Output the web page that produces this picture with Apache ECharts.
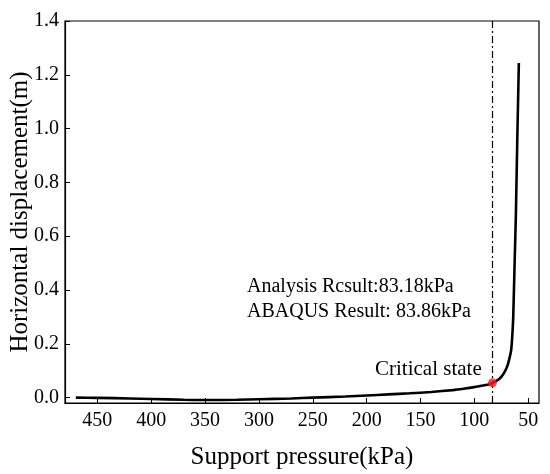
<!DOCTYPE html>
<html>
<head>
<meta charset="utf-8">
<script src="https://cdn.jsdelivr.net/npm/echarts@6/dist/echarts.min.js"></script>
<style>
  html, body { margin: 0; padding: 0; background: #fff; }
  #chart { width: 550px; height: 474px; }
</style>
</head>
<body>
<div id="chart"></div>
<script>
// support pressure (kPa) and horizontal displacement (m)
var pressure = [470, 450, 420, 400, 370, 350, 320, 300, 270, 250, 220, 200, 180, 160, 140,
  120, 110, 100, 92, 86, 83.18, 80.5, 77.3, 74.5, 72, 69.5, 67.5, 65.8, 64.8, 63.9, 62.7,
  61.5, 60.2, 58.7];
var displacement = [0.000, -0.001, -0.003, -0.005, -0.008, -0.009, -0.008, -0.006, -0.003, 0.000,
  0.004, 0.008, 0.012, 0.016, 0.021, 0.028, 0.033, 0.039, 0.045, 0.050, 0.055, 0.060, 0.068,
  0.080, 0.095, 0.116, 0.145, 0.178, 0.230, 0.302, 0.490, 0.673, 0.950, 1.244];

var criticalPoint = [83.18, 0.055];
var xTicks = [50, 100, 150, 200, 250, 300, 350, 400, 450];
var yTicks = [0, 0.2, 0.4, 0.6, 0.8, 1.0, 1.2, 1.4];
var notes = ['Analysis Rcsult:83.18kPa', 'ABAQUS Result: 83.86kPa'];

var font = '"Liberation Serif", "Times New Roman", serif';

var curve = [];
for (var i = 0; i < pressure.length; i++) {
  curve.push([pressure[i], displacement[i]]);
}

var chart = echarts.init(document.getElementById('chart'));

var option = {
  animation: false,
  grid: {
    left: 65, right: 11, top: 21, bottom: 71,
    outerBoundsMode: 'none',
    containLabel: false,
    show: true, borderColor: '#000', borderWidth: 1.2
  },
  xAxis: {
    type: 'value',
    inverse: true,
    min: 40, max: 480,
    name: 'Support pressure(kPa)',
    nameLocation: 'middle',
    nameGap: 42,
    nameTextStyle: { fontFamily: font, fontSize: 25, color: '#000' },
    axisLine: { show: true, onZero: false, lineStyle: { color: '#000', width: 1.2 } },
    axisTick: { show: true, inside: true, length: 5, customValues: xTicks, lineStyle: { color: '#000' } },
    axisLabel: { customValues: xTicks, fontFamily: font, fontSize: 20, color: '#000', margin: 8 },
    splitLine: { show: false }
  },
  yAxis: {
    type: 'value',
    min: -0.02, max: 1.4,
    name: 'Horizontal displacement(m)',
    nameLocation: 'middle',
    nameGap: 32,
    nameMoveOverlap: false,
    nameTextStyle: { fontFamily: font, fontSize: 25, color: '#000' },
    axisLine: { show: true, onZero: false, lineStyle: { color: '#000', width: 1.2 } },
    axisTick: { show: true, inside: true, length: 5, customValues: yTicks, lineStyle: { color: '#000' } },
    axisLabel: {
      customValues: yTicks, fontFamily: font, fontSize: 20, color: '#000', margin: 6,
      formatter: function (v) { return v.toFixed(1); }
    },
    splitLine: { show: false }
  },
  series: [
    {
      type: 'line',
      data: curve,
      smooth: 0.25,
      showSymbol: false,
      lineStyle: { color: '#000', width: 2.6 },
      markLine: {
        silent: true,
        symbol: 'none',
        label: { show: false },
        lineStyle: { color: '#000', width: 1.2, type: [7, 3, 2, 3] },
        data: [{ xAxis: criticalPoint[0] }]
      }
    },
    {
      type: 'scatter',
      data: [criticalPoint],
      symbolSize: 9,
      itemStyle: { color: '#ff1a1a' },
      z: 5
    }
  ],
  graphic: [
    {
      type: 'text', left: 247, top: 277,
      style: { text: notes[0], font: '20px ' + font, fill: '#000' }
    },
    {
      type: 'text', left: 247, top: 302,
      style: { text: notes[1], font: '20px ' + font, fill: '#000' }
    },
    {
      type: 'text', left: 375, top: 359,
      style: { text: 'Critical state', font: '21px ' + font, fill: '#000' }
    }
  ]
};

chart.setOption(option);
</script>
</body>
</html>
